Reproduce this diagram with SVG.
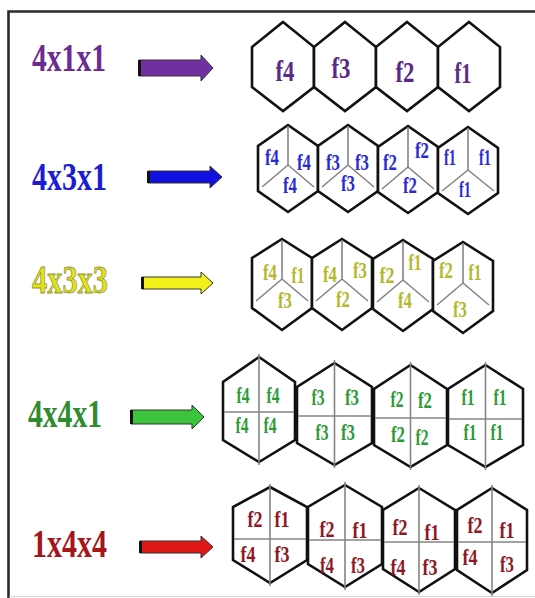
<svg xmlns="http://www.w3.org/2000/svg" width="535" height="598" viewBox="0 0 535 598">
<style>
.hx{fill:#fff;stroke:#111;stroke-width:2.6;stroke-linejoin:miter}
.dv{stroke:#858585;stroke-width:1.6;fill:none}
.lb{font-family:"Liberation Serif","Times New Roman",serif;font-weight:bold;font-size:40px}
.c{font-family:"Liberation Serif","Times New Roman",serif;font-weight:bold;font-size:23px;text-anchor:middle}
.c1{font-size:29px;fill:#5b2a86}
.cb{fill:#2a2ad2}
.cy{fill:#b4b82c}
.cg{fill:#2c9a36}
.cr{fill:#8e1826}
.ar{stroke:#333;stroke-width:1}
.ae{stroke:#111;stroke-width:3}
</style>
<rect width="535" height="598" fill="#fff"/>
<g id="frame">
<path d="M8.5 598 V11.5 H535" fill="none" stroke="#2a2a2a" stroke-width="2.6"/>
<path d="M9 596.5 H535" stroke="#d0d0d0" stroke-width="1"/>
</g>

<g id="label-4x1x1"><text class="lb" x="32" y="71" fill="#6a2c91" textLength="74" lengthAdjust="spacingAndGlyphs">4x1x1</text></g>
<g id="label-4x3x1"><text class="lb" x="32" y="190" fill="#1c1cd6" textLength="75" lengthAdjust="spacingAndGlyphs">4x3x1</text></g>
<g id="label-4x3x3"><text class="lb" x="32" y="293" fill="#e2e21a" stroke="#8f8f3a" stroke-width="0.8" textLength="76" lengthAdjust="spacingAndGlyphs">4x3x3</text></g>
<g id="label-4x4x1"><text class="lb" x="28" y="427" fill="#2e8c2e" textLength="74" lengthAdjust="spacingAndGlyphs">4x4x1</text></g>
<g id="label-1x4x4"><text class="lb" x="32" y="557" fill="#a3161c" textLength="75" lengthAdjust="spacingAndGlyphs">1x4x4</text></g>

<g id="connectors">
<path class="ar" fill="#7030a0" d="M139 60 H201 V55 L213 68 L201 81 V76 H139 Z"/>
<path class="ae" d="M139.5 60 V76"/>
<path class="ar" fill="#1010e0" d="M148 171 H210 V166 L222 177 L210 188 V183 H148 Z"/>
<path class="ae" d="M148.5 171 V183"/>
<path class="ar" fill="#f2f21a" d="M142 277 H201 V272 L213 283 L201 294 V289 H142 Z"/>
<path class="ae" d="M142.5 277 V289"/>
<path class="ar" fill="#3cc43c" d="M131 410 H192 V405 L204 417 L192 429 V424 H131 Z"/>
<path class="ae" d="M131.5 410 V424"/>
<path class="ar" fill="#e01818" d="M140 541 H201 V536 L213 547 L201 558 V553 H140 Z"/>
<path class="ae" d="M140.5 541 V553"/>
</g>

<!-- Row 1: 4x1x1 -->
<g id="r1-h1"><polygon class="hx" points="283,22 314,47 314,87 283,111 252,87 252,47"/><text class="c c1" x="285" y="81" textLength="19" lengthAdjust="spacingAndGlyphs">f4</text></g>
<g id="r1-h2"><polygon class="hx" points="345,22 376,47 376,87 345,111 314,87 314,47"/><text class="c c1" x="341" y="78" textLength="19" lengthAdjust="spacingAndGlyphs">f3</text></g>
<g id="r1-h3"><polygon class="hx" points="407,22 438,47 438,87 407,111 376,87 376,47"/><text class="c c1" x="405" y="82" textLength="19" lengthAdjust="spacingAndGlyphs">f2</text></g>
<g id="r1-h4"><polygon class="hx" points="469,22 500,47 500,87 469,111 438,87 438,47"/><text class="c c1" x="463" y="83" textLength="17" lengthAdjust="spacingAndGlyphs">f1</text></g>

<!-- Row 2: 4x3x1 -->
<g id="r2-h1"><polygon class="hx" points="288,125 318,146 318,191 288,212 258,191 258,146"/>
<path class="dv" d="M288 126 V165 M288 165 L262 187 M288 165 L314 187"/>
<text class="c cb" x="272" y="165" textLength="14" lengthAdjust="spacingAndGlyphs">f4</text>
<text class="c cb" x="304" y="170" textLength="14" lengthAdjust="spacingAndGlyphs">f4</text>
<text class="c cb" x="290" y="193" textLength="14" lengthAdjust="spacingAndGlyphs">f4</text></g>
<g id="r2-h2"><polygon class="hx" points="348,125 378,146 378,191 348,212 318,191 318,146"/>
<path class="dv" d="M348 126 V165 M348 165 L322 187 M348 165 L374 187"/>
<text class="c cb" x="333" y="170" textLength="14" lengthAdjust="spacingAndGlyphs">f3</text>
<text class="c cb" x="362" y="170" textLength="14" lengthAdjust="spacingAndGlyphs">f3</text>
<text class="c cb" x="348" y="191" textLength="14" lengthAdjust="spacingAndGlyphs">f3</text></g>
<g id="r2-h3"><polygon class="hx" points="408,126 438,147 438,192 408,213 378,192 378,147"/>
<path class="dv" d="M408 127 V167 M408 167 L382 189 M408 167 L434 189"/>
<text class="c cb" x="390" y="170" textLength="14" lengthAdjust="spacingAndGlyphs">f2</text>
<text class="c cb" x="422" y="158" textLength="14" lengthAdjust="spacingAndGlyphs">f2</text>
<text class="c cb" x="410" y="193" textLength="14" lengthAdjust="spacingAndGlyphs">f2</text></g>
<g id="r2-h4"><polygon class="hx" points="468,127 498,148 498,193 468,214 438,193 438,148"/>
<path class="dv" d="M468 128 V170 M468 170 L442 191 M468 170 L494 191"/>
<text class="c cb" x="450" y="165" textLength="12" lengthAdjust="spacingAndGlyphs">f1</text>
<text class="c cb" x="485" y="165" textLength="12" lengthAdjust="spacingAndGlyphs">f1</text>
<text class="c cb" x="465" y="197" textLength="12" lengthAdjust="spacingAndGlyphs">f1</text></g>

<!-- Row 3: 4x3x3 -->
<g id="r3-h1"><polygon class="hx" points="282,239 312,258 312,308 282,330 252,308 252,258"/>
<path class="dv" d="M282 240 V279 M282 279 L256 301 M282 279 L308 301"/>
<text class="c cy" x="270" y="280" textLength="14" lengthAdjust="spacingAndGlyphs">f4</text>
<text class="c cy" x="298" y="283" textLength="13" lengthAdjust="spacingAndGlyphs">f1</text>
<text class="c cy" x="285" y="308" textLength="14" lengthAdjust="spacingAndGlyphs">f3</text></g>
<g id="r3-h2"><polygon class="hx" points="342,239 372,258 372,308 342,330 312,308 312,258"/>
<path class="dv" d="M342 240 V279 M342 279 L316 301 M342 279 L368 301"/>
<text class="c cy" x="330" y="282" textLength="14" lengthAdjust="spacingAndGlyphs">f4</text>
<text class="c cy" x="360" y="278" textLength="14" lengthAdjust="spacingAndGlyphs">f3</text>
<text class="c cy" x="343" y="307" textLength="14" lengthAdjust="spacingAndGlyphs">f2</text></g>
<g id="r3-h3"><polygon class="hx" points="403,240 433,259 433,309 403,331 373,309 373,259"/>
<path class="dv" d="M403 241 V280 M403 280 L377 302 M403 280 L429 302"/>
<text class="c cy" x="387" y="283" textLength="15" lengthAdjust="spacingAndGlyphs">f2</text>
<text class="c cy" x="415" y="270" textLength="13" lengthAdjust="spacingAndGlyphs">f1</text>
<text class="c cy" x="405" y="308" textLength="14" lengthAdjust="spacingAndGlyphs">f4</text></g>
<g id="r3-h4"><polygon class="hx" points="463,242 493,261 493,311 463,333 433,311 433,261"/>
<path class="dv" d="M463 243 V283 M463 283 L437 305 M463 283 L489 305"/>
<text class="c cy" x="446" y="278" textLength="14" lengthAdjust="spacingAndGlyphs">f2</text>
<text class="c cy" x="475" y="280" textLength="13" lengthAdjust="spacingAndGlyphs">f1</text>
<text class="c cy" x="460" y="317" textLength="14" lengthAdjust="spacingAndGlyphs">f3</text></g>

<!-- Row 4: 4x4x1 -->
<g id="r4-h1"><polygon class="hx" points="259,357 295,382 295,440 259,462 223,440 223,382"/>
<path class="dv" d="M259 354 V465 M224 412 H294"/>
<text class="c cg" x="243" y="403" textLength="13" lengthAdjust="spacingAndGlyphs">f4</text>
<text class="c cg" x="273" y="403" textLength="13" lengthAdjust="spacingAndGlyphs">f4</text>
<text class="c cg" x="242" y="433" textLength="13" lengthAdjust="spacingAndGlyphs">f4</text>
<text class="c cg" x="270" y="433" textLength="13" lengthAdjust="spacingAndGlyphs">f4</text></g>
<g id="r4-h2"><polygon class="hx" points="334.5,363 372,387 372,443 334.5,465 297,443 297,387"/>
<path class="dv" d="M334.5 360 V468 M298 416 H371"/>
<text class="c cg" x="318" y="405" textLength="13" lengthAdjust="spacingAndGlyphs">f3</text>
<text class="c cg" x="352" y="405" textLength="14" lengthAdjust="spacingAndGlyphs">f3</text>
<text class="c cg" x="322" y="440" textLength="13" lengthAdjust="spacingAndGlyphs">f3</text>
<text class="c cg" x="348" y="440" textLength="14" lengthAdjust="spacingAndGlyphs">f3</text></g>
<g id="r4-h3"><polygon class="hx" points="410.5,365 447,389 447,445 410.5,467 374,445 374,389"/>
<path class="dv" d="M410.5 362 V470 M375 418 H446"/>
<text class="c cg" x="397" y="407" textLength="13" lengthAdjust="spacingAndGlyphs">f2</text>
<text class="c cg" x="425" y="408" textLength="14" lengthAdjust="spacingAndGlyphs">f2</text>
<text class="c cg" x="398" y="442" textLength="14" lengthAdjust="spacingAndGlyphs">f2</text>
<text class="c cg" x="422" y="445" textLength="13" lengthAdjust="spacingAndGlyphs">f2</text></g>
<g id="r4-h4"><polygon class="hx" points="485.5,365 523,389 523,445 485.5,467 448,445 448,389"/>
<path class="dv" d="M485.5 362 V470 M449 419 H522"/>
<text class="c cg" x="468" y="405" textLength="13" lengthAdjust="spacingAndGlyphs">f1</text>
<text class="c cg" x="500" y="405" textLength="13" lengthAdjust="spacingAndGlyphs">f1</text>
<text class="c cg" x="470" y="440" textLength="13" lengthAdjust="spacingAndGlyphs">f1</text>
<text class="c cg" x="497" y="440" textLength="13" lengthAdjust="spacingAndGlyphs">f1</text></g>

<!-- Row 5: 1x4x4 -->
<g id="r5-h1"><polygon class="hx" points="270,487 307,507 307,560 270,583 233,560 233,507"/>
<path class="dv" d="M270 484 V586 M234 539 H306"/>
<text class="c cr" x="255" y="527" textLength="15" lengthAdjust="spacingAndGlyphs">f2</text>
<text class="c cr" x="282" y="527" textLength="15" lengthAdjust="spacingAndGlyphs">f1</text>
<text class="c cr" x="248" y="562" textLength="15" lengthAdjust="spacingAndGlyphs">f4</text>
<text class="c cr" x="282" y="562" textLength="15" lengthAdjust="spacingAndGlyphs">f3</text></g>
<g id="r5-h2"><polygon class="hx" points="345,485 382,507 382,564 345,587 308,564 308,507"/>
<path class="dv" d="M345 482 V590 M309 540 H381"/>
<text class="c cr" x="327" y="537" textLength="15" lengthAdjust="spacingAndGlyphs">f2</text>
<text class="c cr" x="360" y="538" textLength="15" lengthAdjust="spacingAndGlyphs">f1</text>
<text class="c cr" x="327" y="573" textLength="14" lengthAdjust="spacingAndGlyphs">f4</text>
<text class="c cr" x="358" y="573" textLength="14" lengthAdjust="spacingAndGlyphs">f3</text></g>
<g id="r5-h3"><polygon class="hx" points="419,488 455,510 455,569 419,592 383,569 383,510"/>
<path class="dv" d="M419 485 V595 M384 542 H454"/>
<text class="c cr" x="400" y="535" textLength="15" lengthAdjust="spacingAndGlyphs">f2</text>
<text class="c cr" x="432" y="540" textLength="15" lengthAdjust="spacingAndGlyphs">f1</text>
<text class="c cr" x="398" y="575" textLength="15" lengthAdjust="spacingAndGlyphs">f4</text>
<text class="c cr" x="430" y="575" textLength="15" lengthAdjust="spacingAndGlyphs">f3</text></g>
<g id="r5-h4"><polygon class="hx" points="492,488 527,510 527,570 492,593 457,570 457,510"/>
<path class="dv" d="M492 485 V596 M458 542 H526"/>
<text class="c cr" x="475" y="533" textLength="15" lengthAdjust="spacingAndGlyphs">f2</text>
<text class="c cr" x="507" y="538" textLength="15" lengthAdjust="spacingAndGlyphs">f1</text>
<text class="c cr" x="470" y="565" textLength="15" lengthAdjust="spacingAndGlyphs">f4</text>
<text class="c cr" x="507" y="572" textLength="14" lengthAdjust="spacingAndGlyphs">f3</text></g>
</svg>
